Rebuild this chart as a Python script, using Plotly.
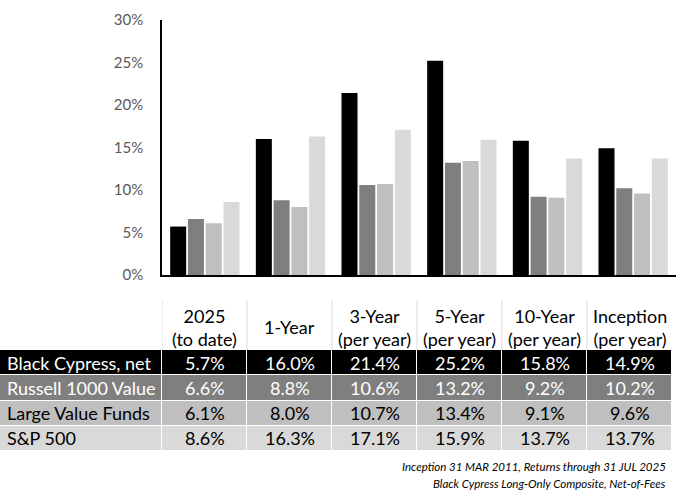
import plotly.graph_objects as go

# ---- data ----
period_keys = ["2025", "1-Year", "3-Year", "5-Year", "10-Year", "Inception"]
period_headers = ["2025<br>(to date)", "1-Year", "3-Year<br>(per year)",
                  "5-Year<br>(per year)", "10-Year<br>(per year)", "Inception<br>(per year)"]
series_names = ["Black Cypress, net", "Russell 1000 Value", "Large Value Funds", "S&P 500"]
black_cypress = [5.7, 16.0, 21.4, 25.2, 15.8, 14.9]
russell_1000_value = [6.6, 8.8, 10.6, 13.2, 9.2, 10.2]
large_value_funds = [6.1, 8.0, 10.7, 13.4, 9.1, 9.6]
sp_500 = [8.6, 16.3, 17.1, 15.9, 13.7, 13.7]
footnotes = ["Inception 31 MAR 2011, Returns through 31 JUL 2025",
             "Black Cypress Long-Only Composite, Net-of-Fees"]

series_values = [black_cypress, russell_1000_value, large_value_funds, sp_500]
fill_colors = ["#000000", "#7f7f7f", "#bfbfbf", "#d9d9d9"]
text_colors = ["#ffffff", "#ffffff", "#000000", "#000000"]

FONT = "Lato, 'Open Sans', sans-serif"
W, H = 681, 501
TFS = 18

fig = go.Figure()

# ---- bars ----
for name, vals, col in zip(series_names, series_values, fill_colors):
    fig.add_trace(go.Bar(x=period_keys, y=vals, name=name, marker_color=col,
                         marker_line_width=0, showlegend=False, hoverinfo="skip"))

# ---- table body as heatmaps ----
n = len(series_names)
m = len(period_keys)
colorscale = [[i / (n - 1), c] for i, c in enumerate(fill_colors)]
row_index = list(range(n))

# label column
fig.add_trace(go.Heatmap(
    x=["label"], y=series_names, z=[[i] for i in row_index],
    colorscale=colorscale, zmin=0, zmax=n - 1, showscale=False,
    ygap=1, xaxis="x2", yaxis="y2", hoverinfo="skip"))

# value columns
fig.add_trace(go.Heatmap(
    x=period_keys, y=series_names, z=[[i] * m for i in row_index],
    colorscale=colorscale, zmin=0, zmax=n - 1, showscale=False,
    xgap=1, ygap=1, xaxis="x3", yaxis="y2", hoverinfo="skip"))

annotations = []
for i, (name, vals) in enumerate(zip(series_names, series_values)):
    annotations.append(dict(text=name, xref="x2 domain", yref="y2", x=0.03, y=i,
                            xanchor="left", yanchor="middle", showarrow=False,
                            font=dict(family=FONT, size=TFS, color=text_colors[i])))
    for j, v in enumerate(vals):
        annotations.append(dict(text=f"{v:.1f}%", xref="x3", yref="y2", x=j, y=i,
                                xanchor="center", yanchor="middle", showarrow=False,
                                font=dict(family=FONT, size=TFS, color=text_colors[i])))

# header
for j, h in enumerate(period_headers):
    annotations.append(dict(text=h, xref="x3", yref="paper", x=j, y=1 - 327 / H,
                            xanchor="center", yanchor="middle", showarrow=False,
                            font=dict(family=FONT, size=TFS, color="#000000")))

shapes = []
for j in range(m):
    shapes.append(dict(type="line", xref="x3", yref="paper", x0=j - 0.5, x1=j - 0.5,
                       y0=1 - 350 / H, y1=1 - 300 / H,
                       line=dict(color="#d9d9d9", width=1)))

# footnotes
for i, t in enumerate(footnotes):
    annotations.append(dict(text=f"<i>{t}</i>", xref="paper", yref="paper",
                            x=668 / W, y=1 - (466 + 17 * i) / H, xanchor="right", yanchor="middle",
                            showarrow=False, font=dict(family=FONT, size=11.5, color="#000000")))

hidden = dict(showticklabels=False, showgrid=False, zeroline=False, ticks="",
              showline=False, automargin=False, fixedrange=True, type="category")

fig.update_layout(
    width=W, height=H,
    margin=dict(l=0, r=0, t=0, b=0, autoexpand=False),
    paper_bgcolor="white", plot_bgcolor="white",
    barmode="group", bargap=0.17, bargroupgap=0.1,
    font=dict(family=FONT),
    annotations=annotations, shapes=shapes,
    xaxis=dict(domain=[162 / W, 676 / W], type="category", range=[-0.5, m - 0.5],
               showticklabels=False, showline=True,
               linecolor="black", linewidth=2, ticks="", showgrid=False, zeroline=False,
               automargin=False, fixedrange=True),
    yaxis=dict(domain=[1 - 275 / H, 1 - 20 / H], range=[0, 30], dtick=5, ticksuffix="%",
               showgrid=False, zeroline=False, showline=True, linecolor="black", linewidth=1.5,
               ticks="outside", ticklen=14, tickcolor="rgba(0,0,0,0)", automargin=False,
               fixedrange=True, tickfont=dict(family=FONT, size=15, color="#595959")),
    xaxis2=dict(domain=[0, 161 / W], anchor="y2", range=[-0.5, 0.5], **hidden),
    xaxis3=dict(domain=[162 / W, 672 / W], anchor="y2", range=[-0.5, m - 0.5], **hidden),
    yaxis2=dict(domain=[1 - 451 / H, 1 - 350 / H], anchor="x2", range=[n - 0.5, -0.5],
                categoryorder="array", categoryarray=series_names, **hidden),
)

fig.write_html("out.html", config={"displayModeBar": False},
               post_script="document.body.style.margin='0';document.body.style.padding='0';")
